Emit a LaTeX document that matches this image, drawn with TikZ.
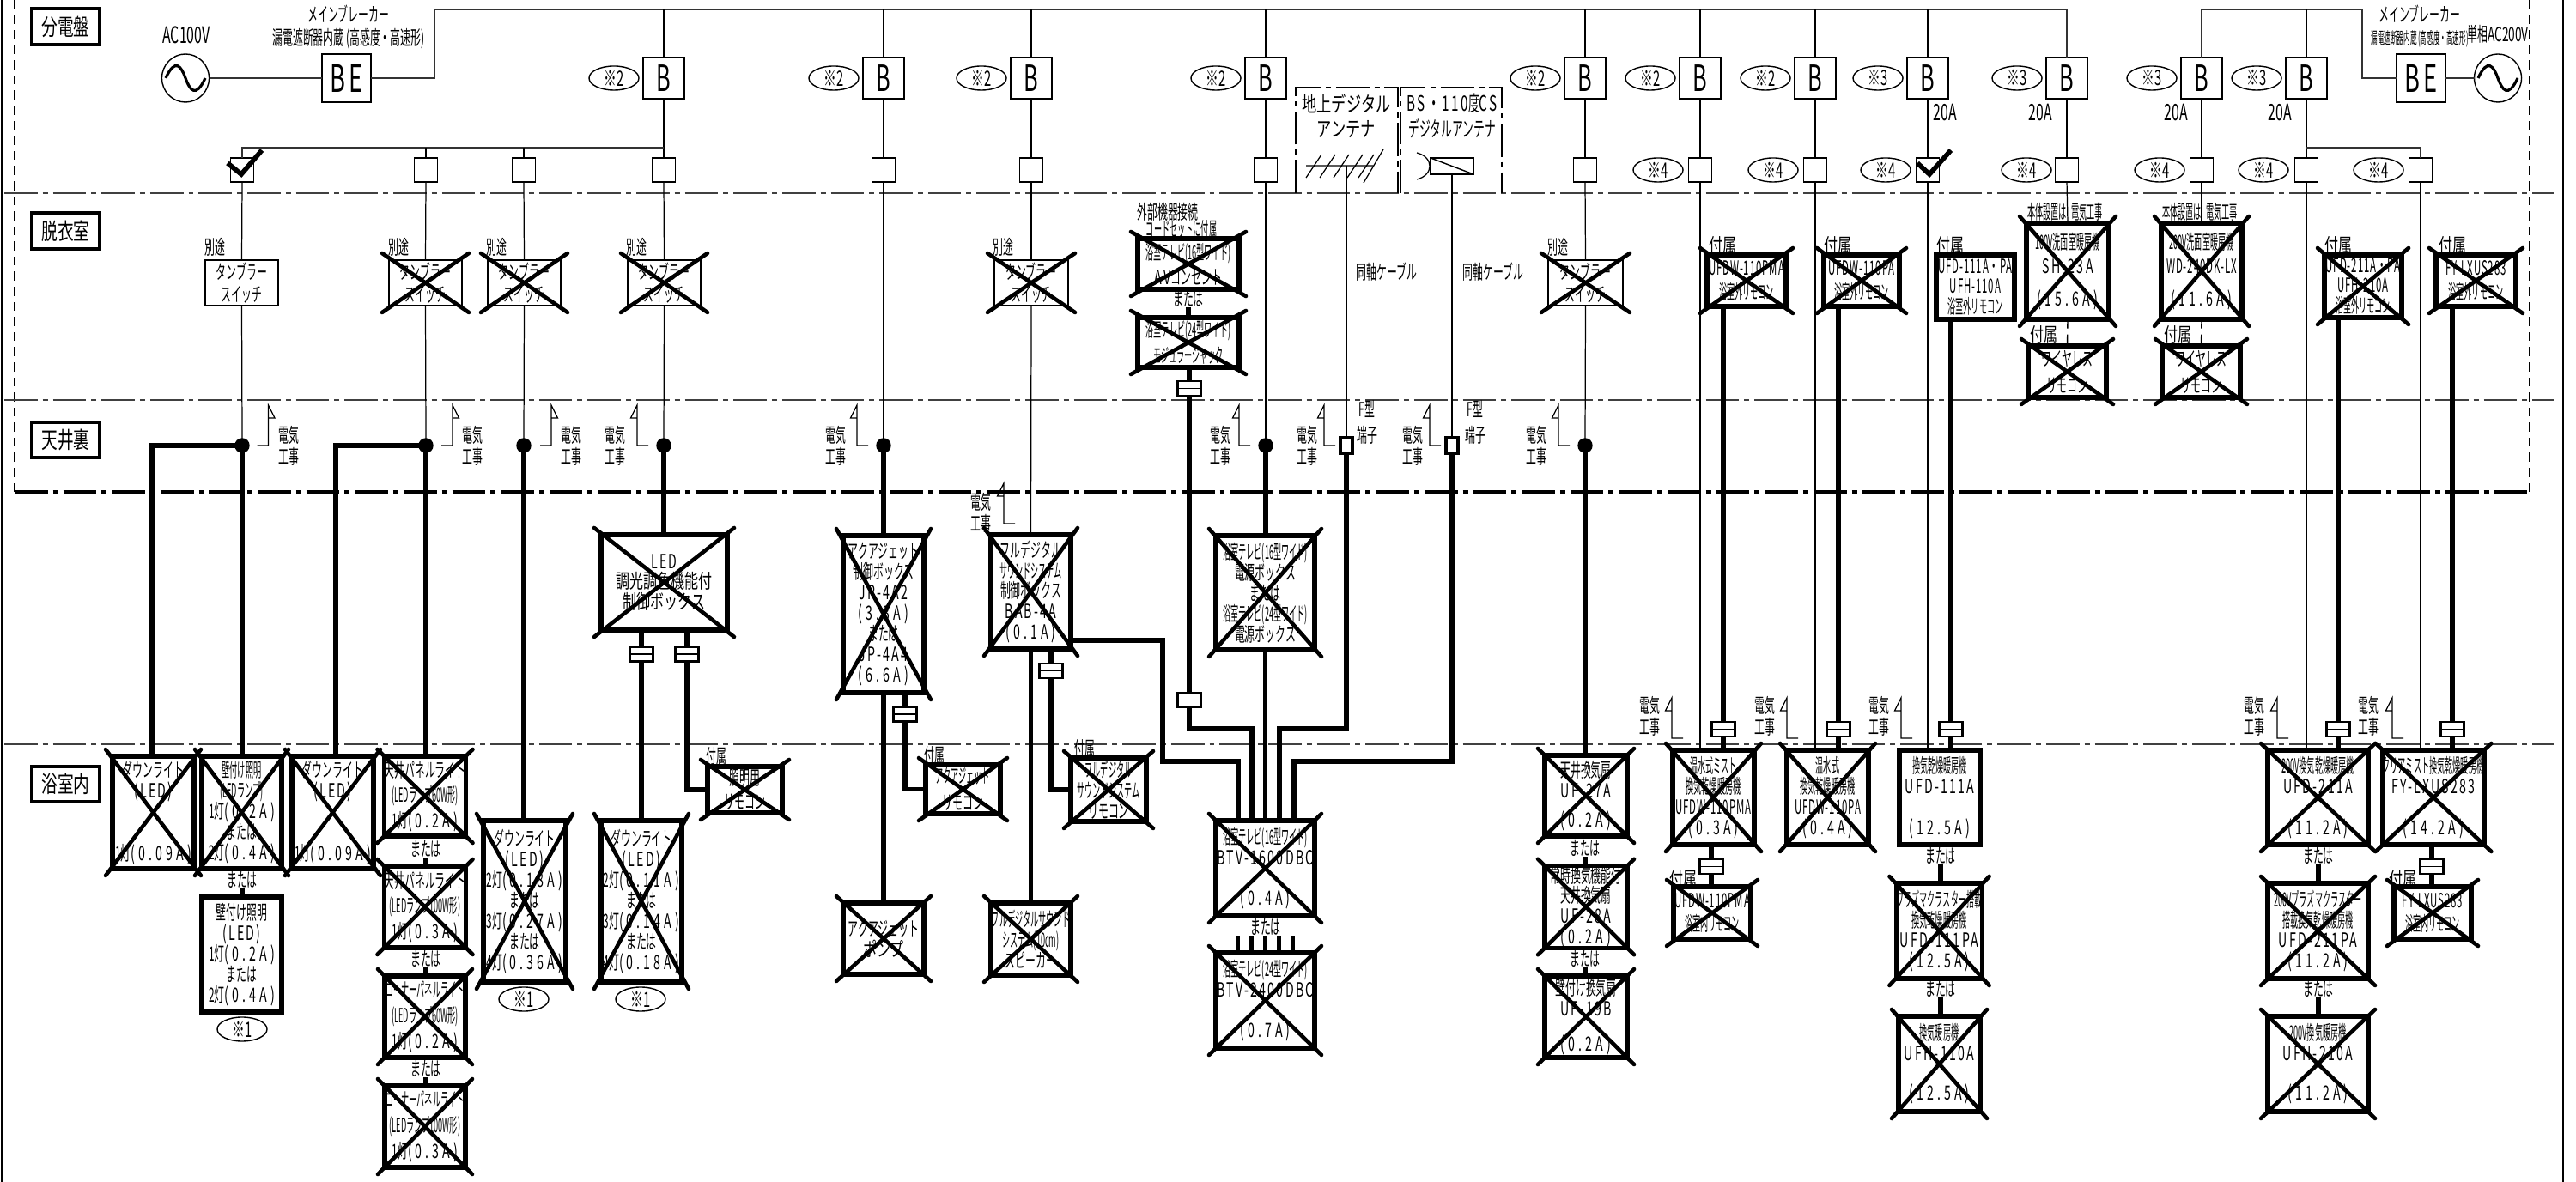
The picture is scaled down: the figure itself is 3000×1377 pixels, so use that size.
\documentclass[tikz,border=0pt]{standalone}
\usepackage{fontspec}
\usetikzlibrary{shapes.geometric}
\newfontfamily\cjk[FakeStretch=.52]{Noto Sans CJK JP}
\newfontfamily\cjkw[FakeStretch=.7]{Noto Sans CJK JP}
\newfontfamily\cjkn[FakeStretch=.4]{Noto Sans CJK JP}
\newfontfamily\azfont[FakeStretch=.62,LetterSpace=10]{Noto Sans CJK JP}
\newfontfamily\ampfont[FakeStretch=.62,LetterSpace=18]{Noto Sans CJK JP}
\newfontfamily\aznfont[FakeStretch=.5,LetterSpace=4]{Noto Sans CJK JP}
\newfontfamily\azzfont[FakeStretch=.6]{Noto Sans CJK JP}
\newcommand{\az}[1]{{\azfont #1}}
\newcommand{\azn}[1]{{\aznfont #1}}
\newcommand{\hoso}[1]{{\cjkn #1}}
\newcommand{\amp}[1]{{\ampfont (#1)}}

\tikzset{
  hososen/.style={line width=.35pt},
  kansen/.style={line width=.7pt,black!80},
  futosen/.style={line width=1.5pt},
  ittensa/.style={line width=.6pt,black!75,dash pattern=on 11pt off 1.7pt on 1.7pt off 1.7pt},
  hasen/.style={line width=.7pt,dash pattern=on 3pt off 2pt},
  batusen/.style={line width=1.3pt,line cap=round},
  moji/.style={inner sep=0,align=center,font=\fontsize{6.5}{6.8}\cjk},
  kiki/.style={draw,line width=1.5pt,inner sep=0,outer sep=0,align=center,font=\fontsize{6.5}{6.8}\cjk},
  suichi/.style={draw,line width=.5pt,inner sep=0,outer sep=0,align=center,font=\fontsize{6.5}{7.4}\cjk},
  heya/.style={draw,line width=1pt,inner sep=0,outer sep=0,font=\fontsize{7.6}{8}\cjkw},
  bure/.style={draw,line width=.5pt,inner sep=0,outer sep=0,minimum width=.48cm,minimum height=.48cm,font=\fontsize{12}{12}\azzfont},
  ko/.style={draw,line width=.5pt,inner sep=0,outer sep=0,minimum width=.27cm,minimum height=.28cm},
  kome/.style={draw,ellipse,line width=.4pt,inner sep=0,outer sep=0,minimum width=.58cm,minimum height=.28cm,font=\fontsize{7}{8}\azzfont},
  ten/.style={draw,circle,fill=black,inner sep=0,outer sep=0,minimum size=.16cm},
  tanshi/.style={draw,line width=.9pt,fill=white,inner sep=0,outer sep=0,minimum width=.14cm,minimum height=.18cm},
  setsu/.style={draw,line width=.7pt,fill=white,inner sep=0,outer sep=0,minimum width=.27cm,minimum height=.17cm,
    path picture={\draw[line width=.5pt] (path picture bounding box.west) -- (path picture bounding box.east);}},
  dengen/.style={draw,ellipse,line width=.4pt,inner sep=0,outer sep=0,minimum width=.55cm,minimum height=.56cm,
    path picture={\draw[line width=.9pt,shift={(path picture bounding box.center)}]
      (-23,0) .. controls (-12,-24) and (-5,-14) .. (0,0) .. controls (5,14) and (12,24) .. (23,0);}},
  eruben/.style={draw,line width=.5pt,inner sep=0,outer sep=0,minimum width=.57cm,minimum height=.56cm,font=\fontsize{12.5}{13}\azfont},
  parabo/.style={draw,line width=.4pt,inner sep=0,outer sep=0,minimum width=.5cm,minimum height=.19cm,
    path picture={\draw[line width=.4pt] (path picture bounding box.north west) -- (path picture bounding box.south east);}}
}

% 四隅の座標で機器を置く
\newcommand{\kiki}[7][kiki]{%
  \pgfmathsetmacro\kiW{(#5-#3)*.01}\pgfmathsetmacro\kiH{(#6-#4)*.01}%
  \node[#1,minimum width=\kiW cm,minimum height=\kiH cm] (#2) at ({(#3+#5)/2},{(#4+#6)/2}) {#7};}
\newcommand{\batu}[1]{\draw[batusen]
  ([shift={(-8,-8)}]#1.north west) -- ([shift={(8,8)}]#1.south east)
  ([shift={(8,-8)}]#1.north east) -- ([shift={(-8,8)}]#1.south west);}
\newcommand{\xkiki}[6]{\kiki{#1}{#2}{#3}{#4}{#5}{#6}\batu{#1}}
\newcommand{\xsuichi}[5]{\kiki[suichi]{#1}{#2}{#3}{#4}{#5}{タンブラー\\スイッチ}\batu{#1}}
% 電気工事の旗
\newcommand{\hata}[6]{%
  \coordinate (#1) at (#2,#3);
  \draw[line width=.35pt] (#1) ++(-13*#4,0) -- ++(13*#4,0) -- ++(0,-47) -- ++(7.5*#4,15) -- ++(-7.5*#4,0);
  \node[moji,font=\fontsize{6.5}{7.1}\cjk] (#1t) at (#5,#6) {電気\\工事};}

\begin{document}
\begin{tikzpicture}[x=0.01cm,y=-0.01cm]
  \useasboundingbox (0,0) rectangle (3000,1377);

  % 外枠と区切り線
  \draw[line width=.8pt] (2,0) -- (2,1377) (2985,0) -- (2985,1377);
  \draw[line width=.7pt,dash pattern=on 3pt off 2pt] (17,0) -- (17,573) (2946,0) -- (2946,573);
  \draw[ittensa] (5,225) -- (2974,225) (5,466) -- (2974,466) (5,867) -- (2974,867);
  \draw[ittensa,line width=1pt,black] (17,573) -- (2946,573);

  % 部屋名
  \kiki[heya]{rbun}{37}{10}{116}{52}{分電盤}
  \kiki[heya]{rdat}{37}{248}{116}{290}{脱衣室}
  \kiki[heya]{rten}{37}{492}{116}{533}{天井裏}
  \kiki[heya]{ryok}{37}{893}{116}{934}{浴室内}

  % 電源
  \node[dengen] (ac1) at (216,91) {};
  \node[dengen] (ac2) at (2909,91) {};
  \node[eruben] (be1) at (403.5,91) {BE};
  \node[eruben] (be2) at (2819.5,91) {BE};
  \node[moji,font=\fontsize{7.5}{8}\azzfont] (tac1) at (217,41) {AC100V};
  \node[moji] (tmb1) at (406,16) {メインブレーカー};
  \node[moji] (trc1) at (406,45) {漏電遮断器内蔵 (高感度・高速形)};
  \node[moji] (tmb2) at (2818,16) {メインブレーカー};
  \node[moji,font=\fontsize{5.4}{6}\cjkn] (trc2) at (2818,45) {漏電遮断器内蔵 (高感度・高速形)};
  \node[moji] (tac2) at (2909,40) {単相{\azzfont AC200V}};

  \coordinate (busL) at (506,11);
  \coordinate (busR) at (2751,11);
  \coordinate (bunki1) at (773,172);
  \coordinate (bunki2) at (2686,172);

  % 分岐ブレーカー
  \foreach \n/\x/\m in {a/773/2,b/1029/2,c/1201/2,d/1474/2,e/1846/2,f/1980/2,g/2114/2,h/2245/3,i/2407/3,j/2564/3,k/2686/3}{
    \node[bure] (b\n) at (\x,91) {B};
    \node[kome] (ma\n) at (\x-58,91) {※\m};
    \node[ko] (k\n) at (\x,198) {};
    \draw[hososen] (b\n.south) -- (k\n.north);
  }
  \draw[kansen] (be1.east) -- (be1.east -| busL) -- (busL) -- (bi.north |- busL) -- (bi.north);
  \draw[kansen] (be2.west) -- (be2.west -| busR) -- (busR) -- (bj.north |- busR) -- (bj.north);
  \foreach \n in {a,b,c,d,e,f,g,h}{
    \draw[hososen] (b\n.north) -- (b\n.north |- busL);
  }
  \draw[hososen] (bk.north) -- (bk.north |- busR);
  \draw[kansen] (ac1.east) -- (be1.west);
  \draw[kansen] (ac2.west) -- (be2.east);

  \foreach \n/\x in {p/282,q/496,r/610,s/2819}{
    \node[ko] (k\n) at (\x,198) {};
  }
  \draw[kansen,line width=.5pt] (bunki1) -- (bunki1 -| kp) -- (kp.north);
  \draw[hososen] (bunki1 -| kq) -- (kq.north);
  \draw[hososen] (bunki1 -| kr) -- (kr.north);
  \draw[kansen,line width=.5pt] (bunki2) -- (bunki2 -| ks) -- (ks.north);

  % ※4
  \foreach \n/\x in {f/1931,g/2065,h/2196,i/2360,j/2515,k/2636,s/2770}{
    \node[kome] (mb\n) at (\x,198) {※4};
  }
  \draw[line width=1.6pt] (265,190) -- (281,203) -- (305,175);
  \draw[line width=1.6pt] (2233,190) -- (2247,203) -- (2272,175);
  \foreach \n/\x in {h/2265,i/2376,j/2534,k/2655}{
    \node[moji,font=\fontsize{7.5}{8}\azzfont] (ta\n) at (\x,131) {20A};
  }

  % タンブラースイッチ
  \kiki[suichi]{sw1}{239}{303}{324}{356}{タンブラー\\スイッチ}
  \xsuichi{sw2}{453}{303}{538}{356}
  \xsuichi{sw3}{568}{303}{653}{356}
  \xsuichi{sw4}{731}{303}{816}{356}
  \xsuichi{sw5}{1158}{303}{1244}{356}
  \xsuichi{sw6}{1803}{303}{1890}{356}
  \foreach \n/\x in {1/250,2/464,3/578,4/741,5/1168,6/1814}{
    \node[moji] (tbe\n) at (\x,288) {別途};
  }

  % 天井裏の分岐点
  \foreach \n/\x in {1/282,2/496,3/610,4/773,5/1029,6/1474,7/1846}{
    \node[ten] (j\n) at (\x,519) {};
  }
  \node[tanshi] (f1) at (1568,519) {};
  \node[tanshi] (f2) at (1691,519) {};
  \node[moji] (tf1) at (1592,492) {F型\\[1.5pt]端子};
  \node[moji] (tf2) at (1718,492) {F型\\[1.5pt]端子};

  \draw[hososen] (kp.south) -- (sw1.north) (sw1.south) -- (j1.north);
  \draw[hososen] (kq.south) -- (sw2.north) (sw2.south) -- (j2.north);
  \draw[hososen] (kr.south) -- (sw3.north) (sw3.south) -- (j3.north);
  \draw[hososen] (ka.south) -- (sw4.north) (sw4.south) -- (j4.north);
  \draw[hososen] (kb.south) -- (j5.north);
  \draw[hososen] (kc.south) -- (sw5.north);
  \draw[hososen] (kd.south) -- (j6.north);
  \draw[hososen] (ke.south) -- (sw6.north) (sw6.south) -- (j7.north);

  % 電気工事の旗
  \hata{h1}{312.5}{519}{1}{336}{519.5}
  \hata{h2}{527}{519}{1}{550}{519.5}
  \hata{h3}{642}{519}{1}{665}{519.5}
  \hata{h4}{742}{519}{-1}{716}{519.5}
  \hata{h5}{998}{519}{-1}{973}{519.5}
  \hata{h6}{1443}{519}{-1}{1421}{519.5}
  \hata{h7}{1542}{519}{-1}{1522}{519.5}
  \hata{h8}{1665}{519}{-1}{1645}{519.5}
  \hata{h9}{1815}{519}{-1}{1789}{519.5}
  \hata{h10}{1169}{610}{-1}{1142}{597}
  \hata{h11}{1947}{860}{-1}{1921}{834}
  \hata{h12}{2081}{860}{-1}{2055}{834}
  \hata{h13}{2214}{860}{-1}{2188}{834}
  \hata{h14}{2652}{860}{-1}{2625}{834}
  \hata{h15}{2786}{860}{-1}{2758}{834}

  % 照明
  \xkiki{dl1}{131}{881}{226}{1012}{ダウンライト\\\az{(LED)}\\[14pt]1灯\amp{0.09A}}
  \xkiki{wl1}{235}{881}{328}{1012}{\hoso{壁付け照明}\\\hoso{(LEDランプ)}\\1灯\amp{0.2A}\\または\\2灯\amp{0.4A}}
  \xkiki{dl2}{340}{881}{435}{1012}{ダウンライト\\\az{(LED)}\\[14pt]1灯\amp{0.09A}}
  \xkiki{pn1}{448}{881}{542}{974}{天井パネルライト\\[1.6pt]\hoso{(LEDランプ60W形)}\\[1.6pt]1灯\amp{0.2A}}
  \xkiki{pn2}{448}{1009}{542}{1104}{天井パネルライト\\[1.6pt]\hoso{(LEDランプ100W形)}\\[1.6pt]1灯\amp{0.3A}}
  \xkiki{pn3}{448}{1137}{542}{1232}{\hoso{コーナーパネルライト}\\[1.6pt]\hoso{(LEDランプ60W形)}\\[1.6pt]1灯\amp{0.2A}}
  \xkiki{pn4}{448}{1265}{542}{1360}{\hoso{コーナーパネルライト}\\[1.6pt]\hoso{(LEDランプ100W形)}\\[1.6pt]1灯\amp{0.3A}}
  \kiki{wl2}{235}{1045}{328}{1179}{壁付け照明\\\az{(LED)}\\1灯\amp{0.2A}\\または\\2灯\amp{0.4A}}
  \node[moji] (mw) at (282,1025) {または};
  \node[kome] (kl1) at (282,1199) {※1};
  \node[moji] (mp1) at (496,989) {または};
  \node[moji] (mp2) at (496,1117) {または};
  \node[moji] (mp3) at (496,1245) {または};
  \draw[futosen] (mw.south) -- (mw.south |- wl2.north);
  \draw[futosen] (mp1.south) -- (mp1.south |- pn2.north);
  \draw[futosen] (mp2.south) -- (mp2.south |- pn3.north);
  \draw[futosen] (mp3.south) -- (mp3.south |- pn4.north);

  \xkiki{dl3}{563}{956}{659}{1144}{ダウンライト\\\az{(LED)}\\2灯\amp{0.18A}\\または\\3灯\amp{0.27A}\\または\\4灯\amp{0.36A}}
  \xkiki{dl4}{700}{956}{794}{1144}{ダウンライト\\\az{(LED)}\\2灯\amp{0.11A}\\または\\3灯\amp{0.14A}\\または\\4灯\amp{0.18A}}
  \node[kome] (kl2) at (610,1164) {※1};
  \node[kome] (kl3) at (746,1164) {※1};
  \xkiki{led}{700}{623}{847}{734}{\az{LED}\\{\cjkw 調光調色機能付}\\{\cjkw 制御ボックス}}
  \xkiki{rm1}{824}{893}{911}{947}{照明用\\[1pt]リモコン}
  \node[moji] (tz1) at (834,881) {付属};
  \node[setsu] (c1) at (747,762) {};
  \node[setsu] (c2) at (800,762) {};

  \coordinate (t1) at (177,881);
  \coordinate (t2) at (391,881);
  \draw[futosen] (j1.center) -- (j1 -| t1) -- (t1);
  \draw[futosen] (j1.center) -- (j1 |- wl1.north);
  \draw[futosen] (j2.center) -- (j2 -| t2) -- (t2);
  \draw[futosen] (j2.center) -- (j2 |- pn1.north);
  \draw[futosen] (j3.center) -- (j3 |- dl3.north);
  \draw[futosen] (j4.center) -- (j4 |- led.north);
  \draw[futosen] (led.south -| c1) -- (c1.north) (c1.south) -- (c1.south |- dl4.north);
  \draw[futosen] (led.south -| c2) -- (c2.north) (c2.south) |- (rm1.west);

  % アクアジェット
  \xkiki{aq}{982}{624}{1076}{807}{アクアジェット\\制御ボックス\\\az{JP-4A2}\\\amp{3.3A}\\または\\\az{JP-4A4}\\\amp{6.6A}}
  \xkiki{rm2}{1078}{891}{1165}{948}{\hoso{アクアジェット}\\[2pt]リモコン}
  \xkiki{pump}{982}{1052}{1076}{1135}{アクアジェット\\{\cjkw ポンプ}}
  \node[moji] (tz2) at (1088,880) {付属};
  \node[setsu] (c3) at (1054,832) {};
  \draw[futosen] (j5.center) -- (j5 |- aq.north);
  \draw[futosen] (aq.south) -- (pump.north);
  \draw[futosen] (aq.south -| c3) -- (c3.north) (c3.south) |- (rm2.west);

  % サウンドシステム
  \xkiki{fd}{1154}{623}{1247}{756}{フルデジタル\\\hoso{サウンドシステム}\\制御ボックス\\\az{BAB-4A}\\\amp{0.1A}}
  \xkiki{rm3}{1247}{883}{1335}{957}{\hoso{フルデジタル}\\\hoso{サウンドシステム}\\リモコン}
  \xkiki{sp}{1154}{1052}{1247}{1136}{\hoso{フルデジタルサウンド}\\\hoso{システム(10cm)}\\スピーカー}
  \node[moji] (tz3) at (1263,872) {付属};
  \node[setsu] (c4) at (1224,781.5) {};
  \draw[hososen] (sw5.south) -- (fd.north);
  \draw[futosen] (fd.south) -- (sp.north);
  \draw[futosen] (fd.south -| c4) -- (c4.north) (c4.south) |- (rm3.west);

  % 浴室テレビ
  \xkiki{pw}{1416}{624}{1531}{757}{\hoso{浴室テレビ(16型ワイド)}\\電源ボックス\\または\\\hoso{浴室テレビ(24型ワイド)}\\電源ボックス}
  \xkiki{tv1}{1416}{956}{1531}{1067}{\hoso{浴室テレビ(16型ワイド)}\\\az{BTV-1600DBC}\\[6.5pt]\amp{0.4A}}
  \xkiki{tv2}{1416}{1110}{1531}{1221}{\hoso{浴室テレビ(24型ワイド)}\\\az{BTV-2400DBC}\\[6.5pt]\amp{0.7A}}
  \node[moji] (mtv) at (1474,1080) {または};
  \foreach \d in {-32,-16,0,16,32}{
    \draw[futosen] ([shift={(\d,0)}]tv2.north) -- ++(0,-20);
  }
  \xkiki{ah1}{1325}{278}{1443}{337}{\hoso{浴室テレビ(16型ワイド)}\\[1.5pt]\az{AV}コンセント}
  \xkiki{ah2}{1325}{370}{1443}{428}{\hoso{浴室テレビ(24型ワイド)}\\[1.5pt]\hoso{モジュラージャック}}
  \node[moji] (tgb1) at (1360,247) {外部機器接続};
  \node[moji] (tgb2) at (1376,267) {\hoso{コードセットに付属}};
  \node[moji] (mah) at (1384,348) {または};
  \node[setsu] (c5) at (1385,452.5) {};
  \node[setsu] (c6) at (1385,815.5) {};
  \coordinate (t3) at (1247,746);
  \coordinate (t4) at (1354,887);
  \coordinate (p1) at (1442,956);
  \coordinate (p2) at (1458,956);
  \coordinate (p4) at (1490,956);
  \coordinate (p5) at (1507,956);
  \coordinate (t5) at (1458,849);
  \coordinate (t6) at (1490,849);
  \coordinate (t7) at (1507,887);
  \draw[futosen] (mah.south) -- (mah.south |- ah2.north);
  \draw[futosen] (ah2.south -| c5) -- (c5.north) (c5.south) -- (c6.north);
  \draw[futosen] (j6.center) -- (j6 |- pw.north);
  \draw[futosen] (pw.south) -- (tv1.north);
  \draw[futosen] (t3) -| (t4) -| (p1);
  \draw[futosen] (c6.south) |- (t5) -- (p2);
  \draw[futosen] (f1.south) |- (t6) -- (p4);
  \draw[futosen] (f2.south) |- (t7) -- (p5);

  % アンテナ
  \draw[ittensa,line width=.4pt,black] (1509,225) -- (1509,102) -- (1628,102) -- (1628,225);
  \draw[ittensa,line width=.4pt,black] (1631,225) -- (1631,102) -- (1749,102) -- (1749,225);
  \node[moji,font=\fontsize{7}{7.4}\cjkw] (tan1) at (1568,135) {地上デジタル\\[1pt]アンテナ};
  \node[moji,font=\fontsize{7}{7.4}\cjk] (tan2) at (1691,135) {\az{BS・110}度\az{CS}\\[1pt]デジタルアンテナ};
  \coordinate (ua) at (1568,193);
  \draw[hososen] (1521,193) -- (1600,193) (1611,174) -- (1588,213);
  \foreach \x in {1539,1555,1571,1587,1600}{
    \draw[hososen] (\x,180) -- (\x-18,207);
  }
  \node[parabo] (bs) at (1691,193.5) {};
  \draw[hososen] (1650,178) .. controls (1670,183) and (1670,204) .. (1650,209);
  \draw[hososen] (ua) -- (f1.north);
  \draw[hososen] (bs.south) -- (f2.north);
  \node[moji] (tdo1) at (1615,317) {同軸ケーブル};
  \node[moji] (tdo2) at (1739,317) {同軸ケーブル};

  % 換気扇
  \xkiki{fan1}{1799}{880}{1895}{974}{天井換気扇\\\az{UF-27A}\\[3pt]\amp{0.2A}}
  \xkiki{fan2}{1799}{1009}{1895}{1104}{常時換気機能付\\天井換気扇\\\az{UF-28A}\\\amp{0.2A}}
  \xkiki{fan3}{1799}{1137}{1895}{1232}{壁付け換気扇\\\az{UF-19B}\\[5pt]\amp{0.2A}}
  \node[moji] (mf1) at (1846,988) {または};
  \node[moji] (mf2) at (1846,1117) {または};
  \draw[futosen] (j7.center) -- (j7 |- fan1.north);
  \draw[futosen] (mf1.south) -- (mf1.south |- fan2.north);
  \draw[futosen] (mf2.south) -- (mf2.south |- fan3.north);

  % 換気乾燥暖房機
  \xkiki{dr1}{1948}{874}{2043}{984}{\hoso{温水式ミスト}\\\hoso{換気乾燥暖房機}\\\azn{UFDW-110PMA}\\\amp{0.3A}}
  \xkiki{dr2}{2081}{874}{2176}{984}{\hoso{温水式}\\\hoso{換気乾燥暖房機}\\\azn{UFDW-110PA}\\\amp{0.4A}}
  \kiki{dr3}{2212}{874}{2306}{984}{\hoso{換気乾燥暖房機}\\\az{UFD-111A}\\[7pt]\amp{12.5A}}
  \xkiki{dr3b}{2211}{1029}{2306}{1140}{\hoso{プラズマクラスター搭載}\\\hoso{換気乾燥暖房機}\\\az{UFD-111PA}\\\amp{12.5A}}
  \xkiki{dr3c}{2211}{1184}{2306}{1295}{\hoso{換気暖房機}\\\az{UFH-110A}\\[6.3pt]\amp{12.5A}}
  \xkiki{dr5}{2641}{874}{2758}{984}{\hoso{200V換気乾燥暖房機}\\\az{UFD-211A}\\[7pt]\amp{11.2A}}
  \xkiki{dr5b}{2641}{1029}{2758}{1140}{\hoso{200Vプラズマクラスター}\\\hoso{搭載換気乾燥暖房機}\\\az{UFD-211PA}\\\amp{11.2A}}
  \xkiki{dr5c}{2641}{1184}{2758}{1295}{\hoso{200V換気暖房機}\\\az{UFH-210A}\\[6.3pt]\amp{11.2A}}
  \xkiki{dr6}{2776}{874}{2892}{984}{\hoso{クリアミスト換気乾燥暖房機}\\\az{FY-LXUS283}\\[7pt]\amp{14.2A}}
  \xkiki{rn1}{1949}{1033}{2039}{1094}{\azn{UFDW-110PMA}\\[1pt]\hoso{浴室内リモコン}}
  \xkiki{rn2}{2788}{1033}{2878}{1094}{\azn{FY-LXUS283}\\[1pt]\hoso{浴室内リモコン}}

  \node[moji] (md3a) at (2260,997) {または};
  \node[moji] (md3b) at (2260,1152) {または};
  \node[moji] (md5a) at (2700,997) {または};
  \node[moji] (md5b) at (2700,1152) {または};
  \draw[futosen] (md3a.south) -- (md3a.south |- dr3b.north);
  \draw[futosen] (md3b.south) -- (md3b.south |- dr3c.north);
  \draw[futosen] (md5a.south) -- (md5a.south |- dr5b.north);
  \draw[futosen] (md5b.south) -- (md5b.south |- dr5c.north);

  % 脱衣室のリモコン
  \xkiki{rc1}{1988}{297}{2080}{357}{\azn{UFDW-110PMA}\\[1pt]\hoso{浴室外リモコン}}
  \xkiki{rc2}{2124}{297}{2212}{357}{\azn{UFDW-110PA}\\[1pt]\hoso{浴室外リモコン}}
  \kiki{rc3}{2255}{297}{2346}{372}{\azn{UFD-111A・PA}\\\azn{UFH-110A}\\\hoso{浴室外リモコン}}
  \xkiki{rc4}{2707}{297}{2797}{370}{\azn{UFD-211A・PA}\\\azn{UFH-210A}\\\hoso{浴室外リモコン}}
  \xkiki{rc5}{2837}{297}{2930}{357}{\azn{FY-LXUS283}\\[1pt]\hoso{浴室外リモコン}}
  \foreach \n/\x in {4/2006,5/2140,6/2271,7/2723,8/2856}{
    \node[moji,font=\fontsize{6.5}{6.8}\cjkw] (tz\n) at (\x,286) {付属};
  }
  \node[moji,font=\fontsize{6.5}{6.8}\cjkw] (tz9) at (1960,1024) {付属};
  \node[moji,font=\fontsize{6.5}{6.8}\cjkw] (tz10) at (2798,1024) {付属};
  \node[moji,font=\fontsize{6.5}{6.8}\cjkw] (tz11) at (2380,390) {付属};
  \node[moji,font=\fontsize{6.5}{6.8}\cjkw] (tz12) at (2536,390) {付属};

  % 洗面室暖房機
  \xkiki{sh}{2360}{260}{2456}{372}{\hoso{100V洗面室暖房機}\\[1pt]\az{SH-23A}\\[4pt]\amp{15.6A}}
  \xkiki{wd}{2517}{260}{2611}{372}{\hoso{200V洗面室暖房機}\\[1pt]\azn{WD-240DK-LX}\\[4pt]\amp{11.6A}}
  \xkiki{ws1}{2362}{403}{2453}{463}{ワイヤレス\\[2pt]リモコン}
  \xkiki{ws2}{2518}{403}{2609}{463}{ワイヤレス\\[2pt]リモコン}
  \node[moji] (thon1) at (2405,247) {\hoso{本体設置は}\ \ \hoso{電気工事}};
  \node[moji] (thon2) at (2562,247) {\hoso{本体設置は}\ \ \hoso{電気工事}};
  \draw[hososen] (ki.south) -- (sh.north);
  \draw[hososen] (kj.south) -- (wd.north);
  \draw[hasen,line width=.4pt] (sh.south) -- (ws1.north);
  \draw[hasen,line width=.4pt] (wd.south) -- (ws2.north);

  % 機器までの配線
  \foreach \n/\x/\m/\k/\r in {7/2007/dr1/f/rc1,8/2141/dr2/g/rc2,9/2272/dr3/h/rc3,10/2723/dr5/k/rc4,11/2856/dr6/s/rc5}{
    \node[setsu] (c\n) at (\x,849.5) {};
    \draw[futosen] (\r.south -| c\n) -- (c\n.north) (c\n.south) -- (c\n.south |- \m.north);
    \draw[hososen] (k\k.south) -- (k\k.south |- \m.north);
  }
  \node[setsu] (c12) at (1993,1009.5) {};
  \node[setsu] (c13) at (2832,1009.5) {};
  \draw[futosen] (dr1.south -| c12) -- (c12.north) (c12.south) -- (c12.south |- rn1.north);
  \draw[futosen] (dr6.south -| c13) -- (c13.north) (c13.south) -- (c13.south |- rn2.north);
\end{tikzpicture}
\end{document}
